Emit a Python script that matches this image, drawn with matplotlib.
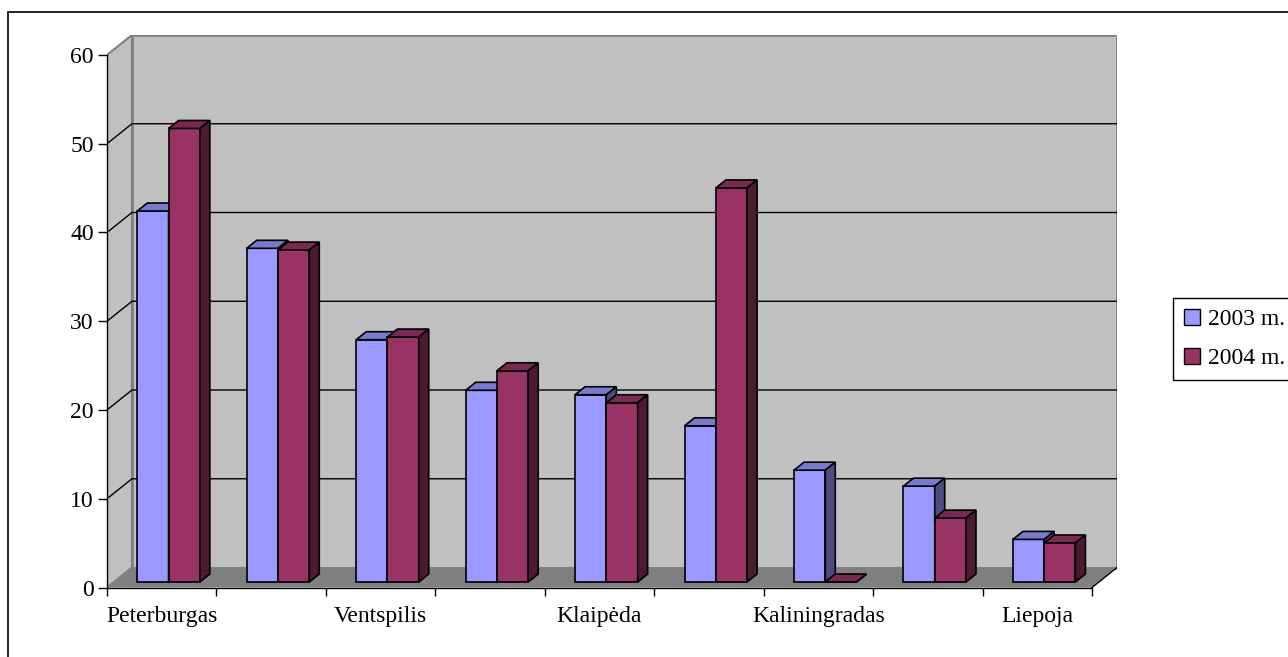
import matplotlib
matplotlib.use("Agg")
import matplotlib.pyplot as plt
from matplotlib.patches import Polygon, Rectangle, Patch
import numpy as np

plt.rcParams['font.family'] = ['Liberation Serif', 'DejaVu Serif']

# ports; only every second name is printed on the axis
categories = ["Peterburgas", "", "Ventspilis", "", "Klaipėda", "",
              "Kaliningradas", "", "Liepoja"]
series_names = ["2003 m.", "2004 m."]
values_2003 = [41.8, 37.6, 27.3, 21.6, 21.1, 17.6, 12.6, 10.8, 4.8]
values_2004 = [51.1, 37.4, 27.6, 23.8, 20.2, 44.4, 0.0, 7.2, 4.4]
y_ticks = [0, 10, 20, 30, 40, 50, 60]

front_colors = ["#9999FF", "#993366"]
top_colors = ["#7A7ACC", "#7A2952"]
side_colors = ["#4D4D80", "#4D1A33"]

# oblique projection of the chart box (data units)
DX, DY = 0.228, 2.25
BAR_D0 = 0.275     # where bars start, as a share of the box depth
BAR_DEPTH = 0.4    # bar depth, as a share of the box depth
BAR_W = 1 / 3.5    # gap width 150 %
FS = 17

n = len(categories)
ymax = y_ticks[-1]
x_lo, x_hi = -0.5, n - 0.5

fig = plt.figure(figsize=(12.88, 6.57), dpi=100)
ax = fig.add_axes([0.08307, 0.10578, 0.78416, 0.84094])
ax.set_xlim(x_lo, x_hi + DX)
ax.set_ylim(0, ymax + DY)
ax.patch.set_visible(False)

# walls and floor
wall = "#C0C0C0"
edge = "#808080"
ax.add_patch(Rectangle((x_lo + DX, DY), x_hi - x_lo, ymax, facecolor=wall,
                       edgecolor=edge, lw=2, zorder=1))
ax.add_patch(Polygon([(x_lo, 0), (x_lo, ymax), (x_lo + DX, ymax + DY), (x_lo + DX, DY)],
                     closed=True, facecolor=wall, edgecolor=edge, lw=1.5, zorder=1))
ax.add_patch(Polygon([(x_lo, 0), (x_hi, 0), (x_hi + DX, DY), (x_lo + DX, DY)],
                     closed=True, facecolor="#808080", edgecolor="none", zorder=1))
ax.plot([x_hi, x_hi + DX], [0, DY], color="black", lw=1, zorder=2)

for v in y_ticks[1:-1]:
    ax.plot([x_lo, x_lo + DX, x_hi + DX], [v, v + DY, v + DY], color="black",
            lw=1, zorder=2)

# bars
bx, by = BAR_DEPTH * DX, BAR_DEPTH * DY
sx, sy = BAR_D0 * DX, BAR_D0 * DY
z = 10
for i in range(n):
    for s, vals in enumerate([values_2003, values_2004]):
        v = vals[i]
        x0 = i - BAR_W + s * BAR_W + sx
        x1 = x0 + BAR_W
        top = sy + v
        ax.bar(x0, v, width=BAR_W, bottom=sy, align="edge", color=front_colors[s],
               edgecolor="black", lw=1.2, zorder=z)
        ax.add_patch(Polygon([(x0, top), (x1, top), (x1 + bx, top + by), (x0 + bx, top + by)],
                             closed=True, facecolor=top_colors[s], edgecolor="black",
                             lw=1.2, zorder=z))
        ax.add_patch(Polygon([(x1, sy), (x1, top), (x1 + bx, top + by), (x1 + bx, sy + by)],
                             closed=True, facecolor=side_colors[s], edgecolor="black",
                             lw=1.2, zorder=z))
        z += 1

# axes
for side in ["top", "right"]:
    ax.spines[side].set_visible(False)
ax.spines["left"].set_bounds(0, ymax)
ax.spines["bottom"].set_bounds(x_lo, x_hi)
for side in ["left", "bottom"]:
    ax.spines[side].set_color("black")
    ax.spines[side].set_linewidth(1)
    ax.spines[side].set_zorder(3)

ax.set_yticks(y_ticks)
ax.set_yticklabels([str(t) for t in y_ticks])
ax.tick_params(axis="y", direction="out", length=6.5, width=1, pad=3, labelsize=FS)

ax.set_xticks(np.arange(x_lo, x_hi + 0.01, 1.0))
ax.set_xticklabels([])
ax.set_xticks(np.arange(n), categories, minor=True)
ax.tick_params(axis="x", which="major", direction="out", length=6, width=1)
ax.tick_params(axis="x", which="minor", length=0, pad=13, labelsize=FS)

# chart frame
fig.patches.append(Rectangle((8 / 1288, -0.02), 1.0, (657 - 12) / 657 + 0.02,
                             transform=fig.transFigure, fill=False,
                             edgecolor="black", lw=1.2))

handles = [Patch(facecolor=front_colors[k], edgecolor="black", lw=1, label=series_names[k])
           for k in range(2)]
leg = fig.legend(handles=handles, loc="upper left",
                 bbox_to_anchor=(1173 / 1288, (657 - 298) / 657),
                 fancybox=False, edgecolor="black", framealpha=1,
                 borderpad=0.45, handlelength=0.7, handleheight=0.7,
                 handletextpad=0.35, labelspacing=0.75, fontsize=FS,
                 borderaxespad=0)
leg.get_frame().set_linewidth(1)

fig.savefig("out.png", dpi=100)
